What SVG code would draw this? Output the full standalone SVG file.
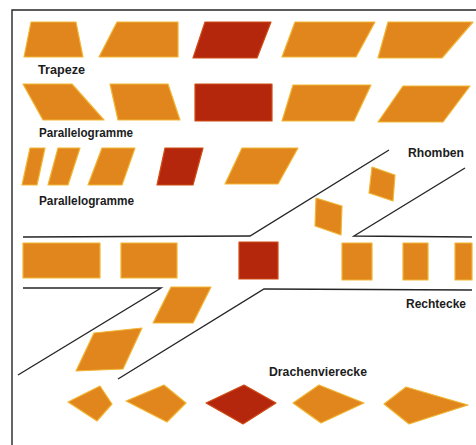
<svg xmlns="http://www.w3.org/2000/svg" width="476" height="445" viewBox="0 0 476 445">
<style>
.o{fill:#e0861d;stroke:#f2b534;stroke-width:1.2;stroke-linejoin:round}
.d{fill:#b5270d;stroke:#cf4c15;stroke-width:1.2;stroke-linejoin:round}
.ln{fill:none;stroke:#262626;stroke-width:1.4}
.t{font-family:"Liberation Sans",Arial,sans-serif;font-size:12px;font-weight:bold;fill:#1c1c1c}
</style>
<rect width="476" height="445" fill="#ffffff"/>
<g id="frame" class="ln"><polyline points="476,10 12,10 12,445"/></g>

<g id="trapeze">
<polygon id="tr1" class="o" points="31,22 76,22 83,57 24,57"/>
<polygon id="tr2" class="o" points="117,22 178,22 178,57 99,57"/>
<polygon id="tr3" class="d" points="205,22 271,22 257,58 193,58"/>
<polygon id="tr4" class="o" points="295,22 375,22 356,57 282,57"/>
<polygon id="tr5" class="o" points="388,22 473,22 442,58 378,58"/>
</g>
<text id="lbl-trapeze" class="t" x="38" y="74" textLength="47" lengthAdjust="spacingAndGlyphs">Trapeze</text>

<g id="parallelogramme1">
<polygon id="pa1" class="o" points="23,84 72,84 104,120 43,120"/>
<polygon id="pa2" class="o" points="110,84 168,84 180,120 118,120"/>
<rect id="pa3" class="d" x="195" y="84" width="77" height="37"/>
<polygon id="pa4" class="o" points="293,85 371,85 354,121 282,121"/>
<polygon id="pa5" class="o" points="403,86 470,86 443,122 378,122"/>
</g>
<text id="lbl-para1" class="t" x="39" y="137" textLength="94" lengthAdjust="spacingAndGlyphs">Parallelogramme</text>

<g id="parallelogramme2">
<polygon id="pb1" class="o" points="30,148 45,148 37,185 22,185"/>
<polygon id="pb2" class="o" points="58,148 80,148 68,185 48,185"/>
<polygon id="pb3" class="o" points="102,148 135,148 122,185 88,185"/>
<polygon id="pb4" class="d" points="165,148 203,148 193,185 157,185"/>
<polygon id="pb5" class="o" points="242,148 298,148 278,184 225,184"/>
</g>
<text id="lbl-para2" class="t" x="39" y="205" textLength="95" lengthAdjust="spacingAndGlyphs">Parallelogramme</text>

<text id="lbl-rhomben" class="t" x="408" y="157" textLength="56" lengthAdjust="spacingAndGlyphs">Rhomben</text>

<g id="rhomben">
<polygon id="rh1" class="o" points="316,198 342,206 341,235 315,226"/>
<polygon id="rh2" class="o" points="372,167 395,175 393,201 369,193"/>
<polygon id="rh3" class="o" points="171,287 211,287 193,323 153,323"/>
<polygon id="rh4" class="o" points="94,333 142,328 123,369 76,371"/>
</g>

<g id="rechtecke">
<rect id="re1" class="o" x="23" y="243" width="77" height="35"/>
<rect id="re2" class="o" x="121" y="243" width="56" height="35"/>
<rect id="re3" class="d" x="239" y="242" width="39" height="37"/>
<rect id="re4" class="o" x="342" y="243" width="30" height="37"/>
<rect id="re5" class="o" x="403" y="243" width="25" height="37"/>
<rect id="re6" class="o" x="455" y="243" width="17" height="37"/>
</g>
<text id="lbl-rechtecke" class="t" x="406" y="308" textLength="60" lengthAdjust="spacingAndGlyphs">Rechtecke</text>

<g id="connectors" class="ln">
<polyline points="23,237 250,236 389,150"/>
<polyline points="472,237 354,236 465,168"/>
<polyline points="23,288 161,288 18,375"/>
<polyline points="472,290 264,289 118,379"/>
</g>

<text id="lbl-drachen" class="t" x="269" y="376" textLength="98" lengthAdjust="spacingAndGlyphs">Drachenvierecke</text>

<g id="drachen">
<polygon id="dr1" class="o" points="68,402 100,386 112,404 97,421"/>
<polygon id="dr2" class="o" points="126,401 164,385 186,403 167,422"/>
<polygon id="dr3" class="d" points="206,403 244,385 276,403 243,424"/>
<polygon id="dr4" class="o" points="293,403 319,385 364,403 321,423"/>
<polygon id="dr5" class="o" points="384,404 406,387 468,405 409,424"/>
</g>
</svg>
